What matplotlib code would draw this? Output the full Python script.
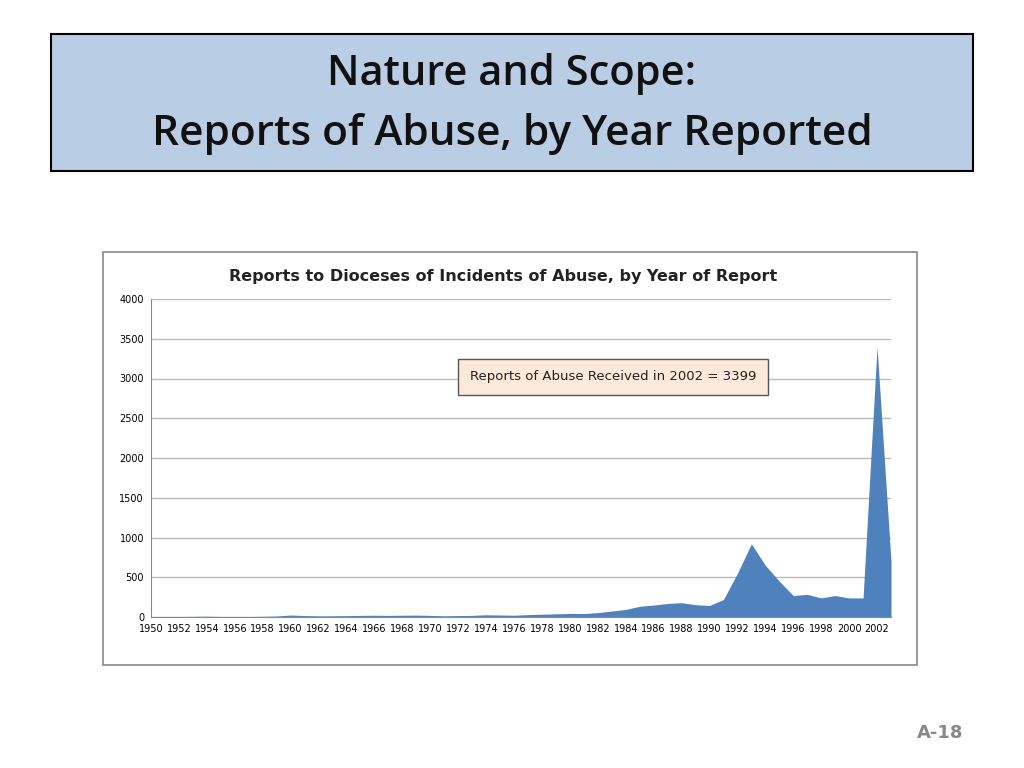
import matplotlib.pyplot as plt
import matplotlib.patches as patches

years = list(range(1950, 2004))
reports = [2, 3, 5, 8, 10, 6, 5, 6, 8, 12,
           25, 18, 14, 15, 17, 20, 22, 20, 22, 24,
           20, 15, 18, 20, 28, 25, 22, 30, 35, 40,
           45, 43, 55, 75, 95, 135, 150, 170, 180, 155,
           145, 220, 550, 920, 650, 450, 270, 285, 240, 270,
           240, 240, 3399, 700]
tick_years = list(range(1950, 2003, 2))
y_ticks = [0, 500, 1000, 1500, 2000, 2500, 3000, 3500, 4000]

W, H = 1024, 768
fig = plt.figure(figsize=(W / 100, H / 100), dpi=100, facecolor='white')

# slide title band
fig.patches.append(patches.Rectangle((51 / W, 1 - 171 / H), 922 / W, 137 / H,
                                     transform=fig.transFigure, facecolor='#b9cde4',
                                     edgecolor='black', linewidth=1.5, zorder=-2))
fig.text(512 / W, 1 - 74 / H, 'Nature and Scope:', ha='center', va='center',
         fontsize=30, fontweight='semibold', family='Open Sans', color='#111111')
fig.text(512 / W, 1 - 134 / H, 'Reports of Abuse, by Year Reported', ha='center',
         va='center', fontsize=30.5, fontweight='semibold', family='Open Sans', color='#111111')

# chart frame
fig.patches.append(patches.Rectangle((103 / W, 1 - 665 / H), 814 / W, 413 / H,
                                     transform=fig.transFigure, facecolor='white',
                                     edgecolor='#888888', linewidth=1.2, zorder=-2))
fig.text(503 / W, 1 - 276 / H, 'Reports to Dioceses of Incidents of Abuse, by Year of Report',
         ha='center', va='center', fontsize=11.5, fontweight='bold', color='#222222')

ax = fig.add_axes([151 / W, 1 - 617 / H, 740 / W, 318 / H])
ax.patch.set_alpha(0)
ax.fill_between(years, reports, 0, color='#4f81bd', linewidth=0)
ax.set_xlim(1950, 2003)
ax.set_ylim(0, 4000)
ax.set_yticks(y_ticks)
ax.set_xticks(tick_years)
ax.tick_params(labelsize=7, length=0, pad=5)
ax.grid(axis='y', color='#bbbbbb', linewidth=1)
ax.set_axisbelow(True)
for s in ['top', 'right']:
    ax.spines[s].set_visible(False)
ax.spines['left'].set_color('#888888')
ax.spines['bottom'].set_color('#888888')

ax.text(0.431, 0.755, 'Reports of Abuse Received in 2002 = 3399', transform=ax.transAxes,
        ha='left', va='center', fontsize=9.5, color='#222222',
        bbox=dict(boxstyle='square,pad=0.9', facecolor='#fde9d9', edgecolor='#555555'))

fig.text(940 / W, 1 - 733 / H, 'A-18', ha='center', va='center', fontsize=13,
         fontweight='bold', color='#888888')

fig.savefig('out.png', dpi=100)
